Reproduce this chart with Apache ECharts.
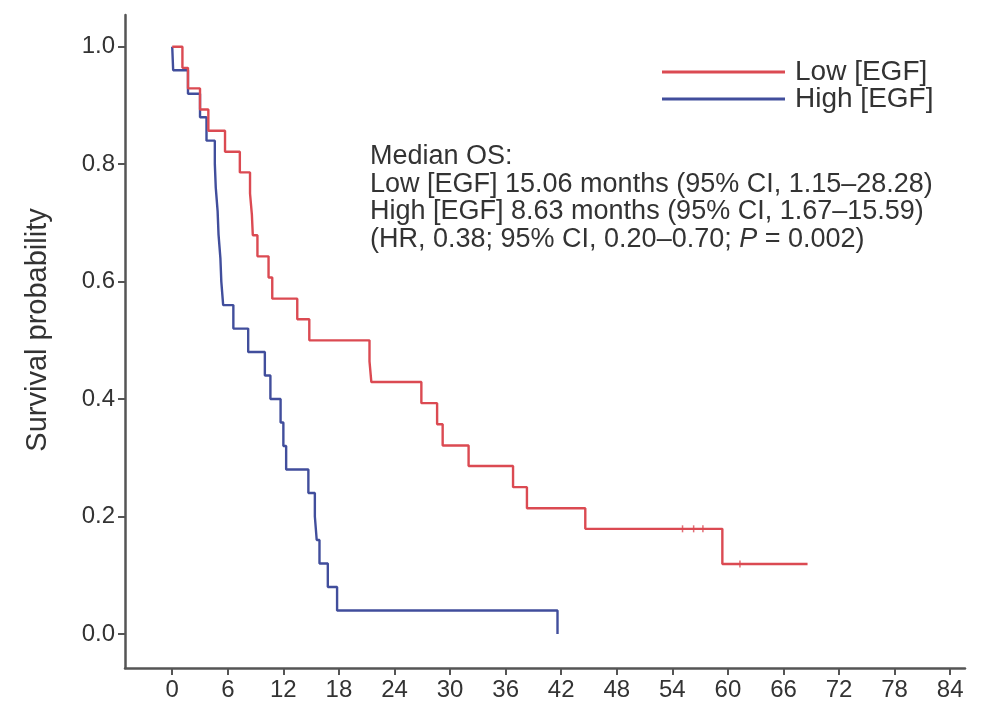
<!DOCTYPE html>
<html>
<head>
<meta charset="utf-8">
<script src="https://cdn.jsdelivr.net/npm/echarts@6/dist/echarts.min.js"></script>
<style>
  html, body { margin: 0; padding: 0; background: #fff; }
  #main { width: 985px; height: 715px; }
</style>
</head>
<body>
<div id="main"></div>
<script>
// Kaplan-Meier steps (months, survival after the event)
const lowTimes = [0, 1.1, 1.7, 3.0, 3.9, 5.7, 7.3, 8.4, 8.6, 8.7, 9.2, 10.4, 10.8, 13.5, 14.8, 21.3, 21.5, 26.9, 28.6, 29.2, 32.0, 36.8, 38.3, 44.6, 59.4, 68.6]
const lowSurv = [1, 0.964, 0.929, 0.893, 0.857, 0.821, 0.786, 0.75, 0.714, 0.679, 0.643, 0.607, 0.571, 0.536, 0.5, 0.464, 0.429, 0.393, 0.357, 0.321, 0.286, 0.25, 0.214, 0.179, 0.119, 0.119]
const lowCensorTimes = [55.1, 56.3, 57.3, 61.3]
const lowCensorSurv = [0.179, 0.179, 0.179, 0.119]

const highTimes = [0, 0.1, 1.7, 3.0, 3.7, 4.6, 4.7, 4.9, 5.0, 5.2, 5.3, 5.5, 6.6, 8.2, 10.0, 10.6, 11.7, 12.0, 12.3, 14.7, 15.4, 15.6, 15.9, 16.8, 17.8, 41.6]
const highSurv = [1, 0.96, 0.92, 0.88, 0.84, 0.80, 0.76, 0.72, 0.68, 0.64, 0.60, 0.56, 0.52, 0.48, 0.44, 0.40, 0.36, 0.32, 0.28, 0.24, 0.20, 0.16, 0.12, 0.08, 0.04, 0]

const xTicks = [0, 6, 12, 18, 24, 30, 36, 42, 48, 54, 60, 66, 72, 78, 84]
const yTicks = [0, 0.2, 0.4, 0.6, 0.8, 1.0]

const annoLines = [
  'Median OS:',
  'Low [EGF] 15.06 months (95% CI, 1.15\u201328.28)',
  'High [EGF] 8.63 months (95% CI, 1.67\u201315.59)'
]

const RED = '#db4a52'
const BLUE = '#414e9c'
const FONT = 'Liberation Sans'

const pairs = (xs, ys) => xs.map((x, i) => [x, ys[i]])

const chart = echarts.init(document.getElementById('main'))

const option = {
  animation: false,
  backgroundColor: '#fff',
  textStyle: { fontFamily: FONT },
  grid: { left: 125, right: 20, top: 15, bottom: 47 },
  legend: {
    data: ['Low [EGF]', 'High [EGF]'],
    orient: 'vertical',
    left: 657,
    top: 53,
    icon: 'rect',
    itemWidth: 123,
    itemHeight: 3,
    itemGap: -1,
    textStyle: { fontSize: 28, color: '#333', fontFamily: FONT, padding: [0, 0, 0, 5] }
  },
  xAxis: {
    type: 'value',
    min: -5.1,
    max: 85.6,
    splitLine: { show: false },
    axisLine: { onZero: false, lineStyle: { color: '#555', width: 2.5 } },
    axisTick: { customValues: xTicks, length: 7, lineStyle: { color: '#555', width: 2 } },
    axisLabel: { customValues: xTicks, fontSize: 24, color: '#333', margin: 10 }
  },
  yAxis: {
    type: 'value',
    min: -0.058,
    max: 1.054,
    splitLine: { show: false },
    axisLine: { show: true, onZero: false, lineStyle: { color: '#555', width: 2.5 } },
    axisTick: { show: true, customValues: yTicks, length: 7, lineStyle: { color: '#555', width: 2 } },
    axisLabel: {
      customValues: yTicks, fontSize: 24, color: '#333', margin: 10,
      formatter: v => v.toFixed(1)
    }
  },
  series: [
    {
      name: 'Low [EGF]',
      type: 'line',
      step: 'end',
      showSymbol: false,
      color: RED,
      lineStyle: { width: 2.4, color: RED },
      data: pairs(lowTimes, lowSurv),
      z: 3
    },
    {
      name: 'High [EGF]',
      type: 'line',
      step: 'end',
      showSymbol: false,
      color: BLUE,
      lineStyle: { width: 2.4, color: BLUE },
      data: pairs(highTimes, highSurv),
      z: 2
    },
    {
      name: 'censor',
      type: 'scatter',
      symbol: 'rect',
      symbolSize: [1.5, 7],
      itemStyle: { color: RED },
      data: pairs(lowCensorTimes, lowCensorSurv),
      z: 4
    }
  ],
  graphic: [
    {
      type: 'text',
      x: 38,
      y: 330,
      rotation: Math.PI / 2,
      style: {
        text: 'Survival probability',
        fontSize: 29,
        fill: '#333',
        fontFamily: FONT,
        align: 'center',
        verticalAlign: 'middle'
      }
    },
    ...annoLines.map((t, i) => ({
      type: 'text',
      left: 370,
      top: 143 + i * 27.7,
      style: { text: t, fontSize: 27, fill: '#333', fontFamily: FONT }
    })),
    {
      type: 'text',
      left: 370,
      top: 143 + 3 * 27.7,
      style: {
        text: '{a|(HR, 0.38; 95% CI, 0.20\u20130.70; }{i|P}{a| = 0.002)}',
        rich: {
          a: { fontSize: 27, fill: '#333', fontFamily: FONT },
          i: { fontSize: 27, fill: '#333', fontFamily: FONT, fontStyle: 'italic' }
        }
      }
    }
  ]
}

chart.setOption(option)
</script>
</body>
</html>
